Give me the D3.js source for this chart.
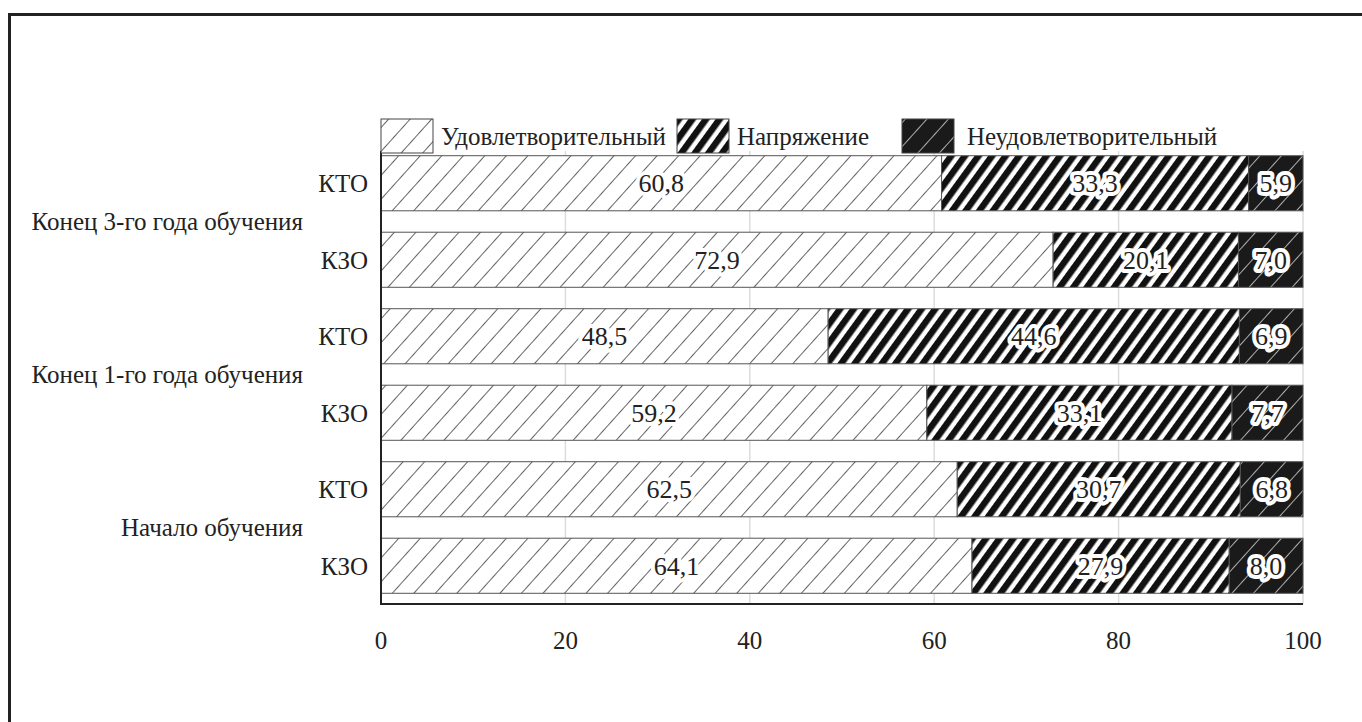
<!DOCTYPE html>
<html><head><meta charset="utf-8">
<script src="https://cdn.jsdelivr.net/npm/d3@7"></script>
<style>body{margin:0;background:#fff}svg{display:block}</style>
</head><body>
<script>
const groups = ["Конец 3-го года обучения","Конец 1-го года обучения","Начало обучения"];
const subs = ["КТО","КЗО"];
const seriesNames = ["Удовлетворительный","Напряжение","Неудовлетворительный"];
const satisfactory = [60.8,72.9,48.5,59.2,62.5,64.1];
const tension = [33.3,20.1,44.6,33.1,30.7,27.9];
const unsatisfactory = [5.9,7.0,6.9,7.7,6.8,8.0];
const xTicks = [0,20,40,60,80,100];

const W=1362,H=722;
const FONT="'Liberation Serif', 'Times New Roman', Tinos, 'DejaVu Serif', serif";
const FS=25;
const svg=d3.select("body").append("svg").attr("width",W).attr("height",H)
  .attr("font-family",FONT).style("font-family",FONT);
const defs=svg.append("defs");
const p1=defs.append("pattern").attr("id","p1").attr("patternUnits","userSpaceOnUse").attr("width",16).attr("height",16).attr("patternTransform","rotate(42)");
p1.append("rect").attr("width",16).attr("height",16).attr("fill","#fff");
p1.append("line").attr("x1",0).attr("y1",0).attr("x2",0).attr("y2",16).attr("stroke","#111").attr("stroke-width",1.3);
const p2=defs.append("pattern").attr("id","p2").attr("patternUnits","userSpaceOnUse").attr("width",11).attr("height",11).attr("patternTransform","rotate(36)");
p2.append("rect").attr("width",11).attr("height",11).attr("fill","#fff");
p2.append("rect").attr("x",0).attr("width",6.5).attr("height",11).attr("fill","#111");
const p3=defs.append("pattern").attr("id","p3").attr("patternUnits","userSpaceOnUse").attr("width",16).attr("height",16).attr("patternTransform","rotate(42)");
p3.append("rect").attr("width",16).attr("height",16).attr("fill","#1a1a1a");
p3.append("line").attr("x1",0).attr("y1",0).attr("x2",0).attr("y2",16).attr("stroke","#fff").attr("stroke-width",1.3);
const fills=["url(#p1)","url(#p2)","url(#p3)"];

svg.append("rect").attr("x",9.5).attr("y",14.5).attr("width",1400).attr("height",800).attr("fill","none").attr("stroke","#222").attr("stroke-width",3);

const keys=[];groups.forEach(g=>subs.forEach(s=>keys.push(g+"|"+s)));
const x=d3.scaleLinear().domain([0,100]).range([381,1303]);
const y=d3.scaleBand().domain(keys).range([145,604]).paddingInner(0.28).paddingOuter(0.14);

svg.append("g").selectAll("line").data(xTicks.slice(1)).join("line")
 .attr("x1",d=>x(d)).attr("x2",d=>x(d)).attr("y1",151).attr("y2",604)
 .attr("stroke","#dcdcdc").attr("stroke-width",1.5);

const rows=keys.map((k,i)=>{const v=[satisfactory[i],tension[i],unsatisfactory[i]];let c=0;return v.map((val,j)=>{const s={key:k,j,x0:c,x1:c+val,val};c+=val;return s;});});
const gBars=svg.append("g");
rows.forEach(r=>{
 gBars.selectAll(null).data(r).join("rect")
  .attr("x",d=>x(d.x0)).attr("width",d=>x(d.x1)-x(d.x0))
  .attr("y",d=>y(d.key)).attr("height",y.bandwidth())
  .attr("fill",d=>fills[d.j]).attr("stroke","#555").attr("stroke-width",1);
});
const fmt=v=>v.toFixed(1).replace(".",",");
const T=sel=>sel.style("font-family",FONT).attr("fill","#222");
rows.forEach(r=>{
 svg.append("g").selectAll("text").data(r).join("text")
  .attr("x",d=>x((d.x0+d.x1)/2)).attr("y",d=>y(d.key)+y.bandwidth()/2)
  .attr("dy","0.35em").attr("text-anchor","middle").attr("font-size",26)
  .attr("stroke","#fff").attr("stroke-width",8).attr("stroke-linejoin","round").attr("paint-order","stroke")
  .call(T).text(d=>fmt(d.val));
});

svg.append("line").attr("x1",381).attr("x2",381).attr("y1",151).attr("y2",605).attr("stroke","#222").attr("stroke-width",2);
svg.append("line").attr("x1",380).attr("x2",x(100)).attr("y1",604).attr("y2",604).attr("stroke","#222").attr("stroke-width",2);

svg.append("g").selectAll("text").data(xTicks).join("text")
 .attr("x",d=>x(d)).attr("y",640).attr("dy","0.35em").attr("text-anchor","middle").attr("font-size",FS).call(T).text(d=>d);

svg.append("g").selectAll("text").data(keys).join("text")
 .attr("x",368).attr("y",d=>y(d)+y.bandwidth()/2).attr("dy","0.35em").attr("text-anchor","end").attr("font-size",FS)
 .call(T).text(d=>d.split("|")[1]);
svg.append("g").selectAll("text").data(groups).join("text")
 .attr("x",303).attr("y",g=>(y(g+"|"+subs[0])+y(g+"|"+subs[1])+y.bandwidth())/2).attr("dy","0.35em").attr("text-anchor","end").attr("font-size",FS)
 .call(T).text(d=>d);

const legX=[381,677,902];
const lg=svg.append("g");
seriesNames.forEach((n,i)=>{
 lg.append("rect").attr("x",legX[i]).attr("y",119).attr("width",52).attr("height",34).attr("fill",fills[i]).attr("stroke","#444").attr("stroke-width",1);
 lg.append("text").attr("x",legX[i]+(i==2?65:60)).attr("y",136).attr("dy","0.35em").attr("font-size",FS).call(T).text(n);
});
</script>
</body></html>
